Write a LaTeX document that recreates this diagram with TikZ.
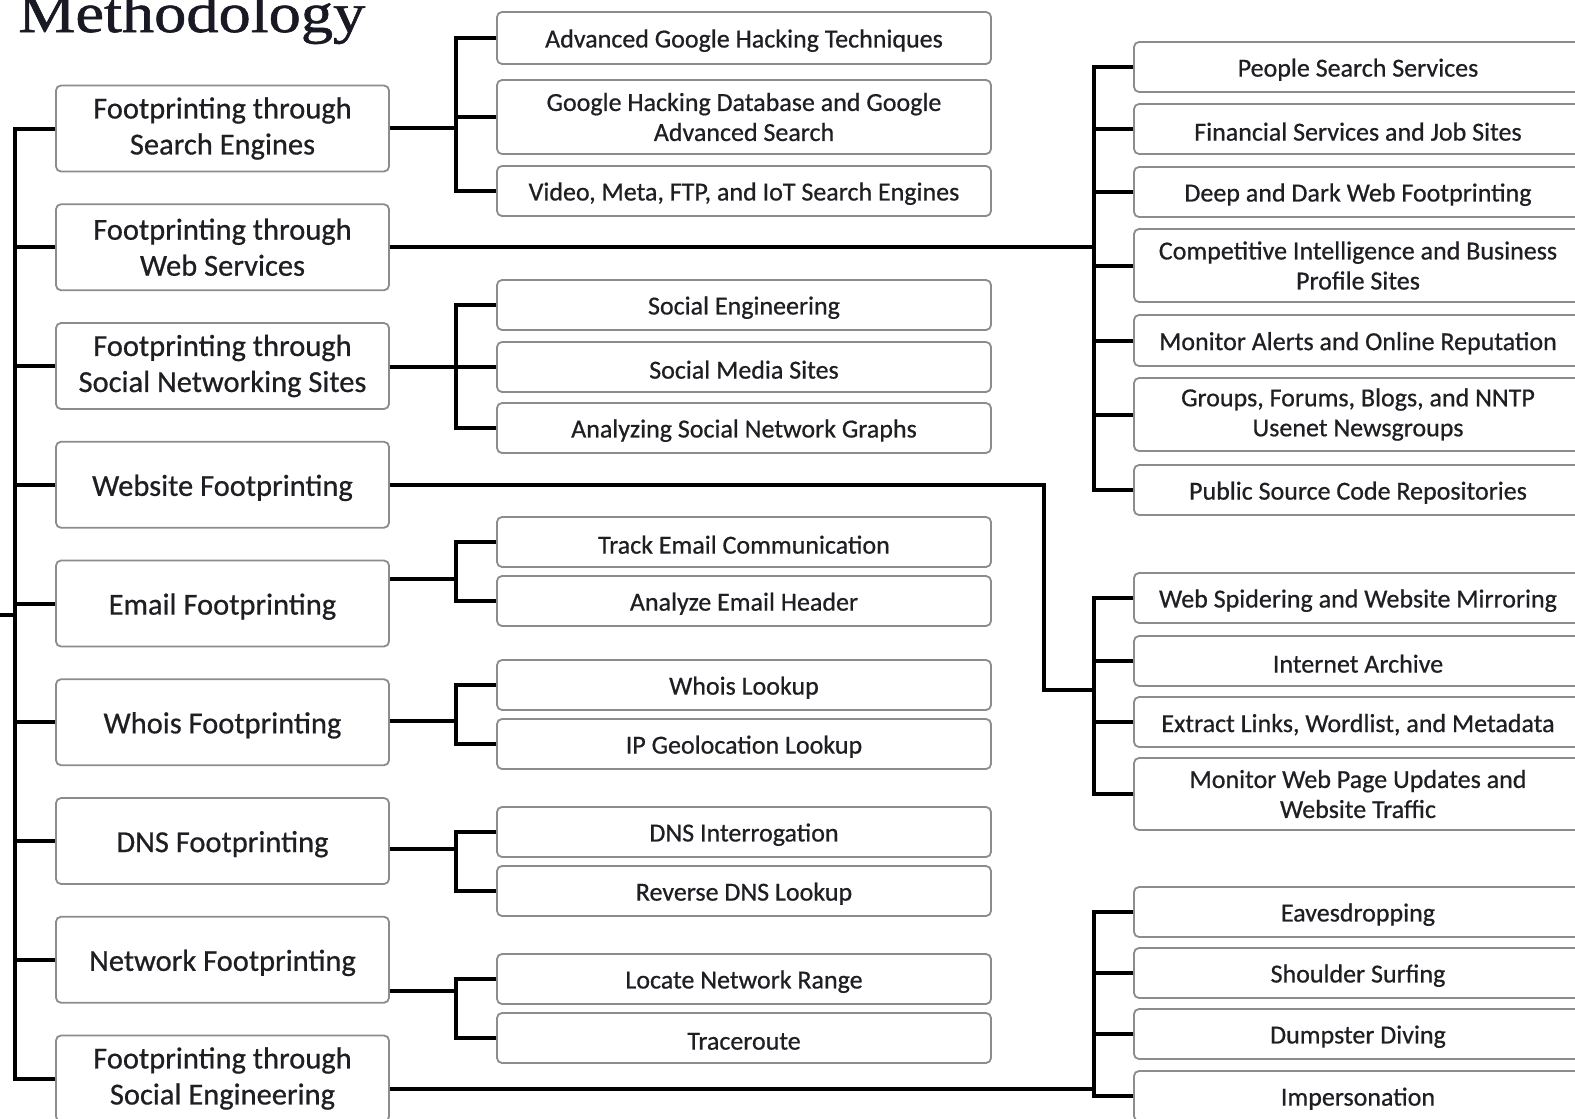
\documentclass[tikz,border=0pt]{standalone}
\usepackage{fontspec}
\setmainfont[FakeBold=0.6]{Carlito}
\newfontfamily\titlefont[FakeStretch=1.15,FakeBold=1]{Liberation Serif}
\definecolor{boxline}{RGB}{140,140,140}
\definecolor{txt}{RGB}{30,30,35}
\definecolor{titlecol}{RGB}{25,25,35}
\begin{document}
\begin{tikzpicture}[x=1pt,y=-1pt,
  conn/.style={line width=4pt, black, line join=miter},
  box/.style={draw=boxline, line width=1.8pt, rounded corners=5pt, fill=white,
    text=txt, align=center, inner sep=0pt,
    execute at begin node={\rule{0pt}{0.9em}}},
  mainbox/.style={box, minimum width=333pt, minimum height=86pt,
    font=\fontsize{30.5}{36}\selectfont},
  subbox/.style={box, minimum width=494pt, font=\fontsize{26}{30}\selectfont},
  sidebox/.style={box, minimum width=448pt, font=\fontsize{26}{30}\selectfont},
]
\clip (0,0) rectangle (1575,1119);
\useasboundingbox (0,0) rectangle (1575,1119);
\fill[white] (0,0) rectangle (1575,1119);

% title
\node[anchor=base west, inner sep=0pt, text=titlecol,
  font=\titlefont\fontsize{56}{60}\selectfont] (title) at (18,32) {Methodology};

% main column
\node[mainbox] (k1) at (222.5,128.5) {Footprinting through\\Search Engines};
\node[mainbox] (k2) at (222.5,247.25) {Footprinting through\\Web Services};
\node[mainbox] (k3) at (222.5,366) {Footprinting through\\Social Networking Sites};
\node[mainbox] (k4) at (222.5,484.75) {Website Footprinting};
\node[mainbox] (k5) at (222.5,603.5) {Email Footprinting};
\node[mainbox] (k6) at (222.5,722.25) {Whois Footprinting};
\node[mainbox] (k7) at (222.5,841) {DNS Footprinting};
\node[mainbox] (k8) at (222.5,959.75) {Network Footprinting};
\node[mainbox] (k9) at (222.5,1078.5) {Footprinting through\\Social Engineering};

% middle column
\node[subbox, minimum height=52pt] (m1a) at (744,38) {Advanced Google Hacking Techniques};
\node[subbox, minimum height=74pt] (m1b) at (744,117) {Google Hacking Database and Google\\Advanced Search};
\node[subbox, minimum height=50pt] (m1c) at (744,191) {Video, Meta, FTP, and IoT Search Engines};

\node[subbox, minimum height=50pt] (m3a) at (744,305) {Social Engineering};
\node[subbox, minimum height=50pt] (m3b) at (744,367) {Social Media Sites};
\node[subbox, minimum height=50pt] (m3c) at (744,428) {Analyzing Social Network Graphs};

\node[subbox, minimum height=50pt] (m5a) at (744,542) {Track Email Communication};
\node[subbox, minimum height=50pt] (m5b) at (744,601) {Analyze Email Header};

\node[subbox, minimum height=50pt] (m6a) at (744,685) {Whois Lookup};
\node[subbox, minimum height=50pt] (m6b) at (744,744) {IP Geolocation Lookup};

\node[subbox, minimum height=50pt] (m7a) at (744,832) {DNS Interrogation};
\node[subbox, minimum height=50pt] (m7b) at (744,891) {Reverse DNS Lookup};

\node[subbox, minimum height=50pt] (m8a) at (744,979) {Locate Network Range};
\node[subbox, minimum height=50pt] (m8b) at (744,1038) {Traceroute};

% right column
\node[sidebox, minimum height=50pt] (r2a) at (1358,67) {People Search Services};
\node[sidebox, minimum height=50pt] (r2b) at (1358,129) {Financial Services and Job Sites};
\node[sidebox, minimum height=50pt] (r2c) at (1358,192) {Deep and Dark Web Footprinting};
\node[sidebox, minimum height=73pt] (r2d) at (1358,265.5) {Competitive Intelligence and Business\\Profile Sites};
\node[sidebox, minimum height=51pt] (r2e) at (1358,340.5) {Monitor Alerts and Online Reputation};
\node[sidebox, minimum height=73pt] (r2f) at (1358,414.5) {Groups, Forums, Blogs, and NNTP\\Usenet Newsgroups};
\node[sidebox, minimum height=50pt] (r2g) at (1358,490) {Public Source Code Repositories};

\node[sidebox, minimum height=50pt] (r4a) at (1358,598) {Web Spidering and Website Mirroring};
\node[sidebox, minimum height=50pt] (r4b) at (1358,661) {Internet Archive};
\node[sidebox, minimum height=50pt] (r4c) at (1358,722) {Extract Links, Wordlist, and Metadata};
\node[sidebox, minimum height=72pt] (r4d) at (1358,794) {Monitor Web Page Updates and\\Website Traffic};

\node[sidebox, minimum height=50pt] (r9a) at (1358,912) {Eavesdropping};
\node[sidebox, minimum height=50pt] (r9b) at (1358,973) {Shoulder Surfing};
\node[sidebox, minimum height=50pt] (r9c) at (1358,1034) {Dumpster Diving};
\node[sidebox, minimum height=50pt] (r9d) at (1358,1096) {Impersonation};

% junction points
\coordinate (root) at (0,615);
\coordinate (trunk) at (15,615);
\coordinate (b1) at (456,128);
\coordinate (b2) at (1094,247);
\coordinate (b3) at (456,367);
\coordinate (w4) at (1044,485);
\coordinate (b4) at (1094,690);
\coordinate (b5) at (456,579);
\coordinate (b6) at (456,721);
\coordinate (b7) at (456,849);
\coordinate (b8) at (456,991);
\coordinate (b9) at (1094,1089);

% trunk to every method
\draw[conn] (root) -- (trunk);
\draw[conn] (k1.west) -| (trunk) |- (k9.west);
\foreach \k in {k2,k3,k4,k5,k6,k7,k8}
  \draw[conn] (trunk |- \k.west) -- (\k.west);

% search engines
\draw[conn] (k1.east |- b1) -- (b1);
\draw[conn] (m1a.west) -| (b1) |- (m1c.west);
\draw[conn] (b1 |- m1b.west) -- (m1b.west);

% web services
\draw[conn] (k2.east |- b2) -- (b2);
\draw[conn] (r2a.west) -| (b2) |- (r2g.west);
\foreach \c in {r2b,r2c,r2d,r2e,r2f}
  \draw[conn] (b2 |- \c.west) -- (\c.west);

% social networking sites
\draw[conn] (k3.east |- b3) -- (b3);
\draw[conn] (m3a.west) -| (b3) |- (m3c.west);
\draw[conn] (b3 |- m3b.west) -- (m3b.west);

% website
\draw[conn] (k4.east |- w4) -- (w4) |- (b4);
\draw[conn] (r4a.west) -| (b4) |- (r4d.west);
\foreach \c in {r4b,r4c}
  \draw[conn] (b4 |- \c.west) -- (\c.west);

% email
\draw[conn] (k5.east |- b5) -- (b5);
\draw[conn] (m5a.west) -| (b5) |- (m5b.west);

% whois
\draw[conn] (k6.east |- b6) -- (b6);
\draw[conn] (m6a.west) -| (b6) |- (m6b.west);

% dns
\draw[conn] (k7.east |- b7) -- (b7);
\draw[conn] (m7a.west) -| (b7) |- (m7b.west);

% network
\draw[conn] (k8.east |- b8) -- (b8);
\draw[conn] (m8a.west) -| (b8) |- (m8b.west);

% social engineering
\draw[conn] (k9.east |- b9) -- (b9);
\draw[conn] (r9a.west) -| (b9) |- (r9d.west);
\foreach \c in {r9b,r9c}
  \draw[conn] (b9 |- \c.west) -- (\c.west);
\end{tikzpicture}
\end{document}
